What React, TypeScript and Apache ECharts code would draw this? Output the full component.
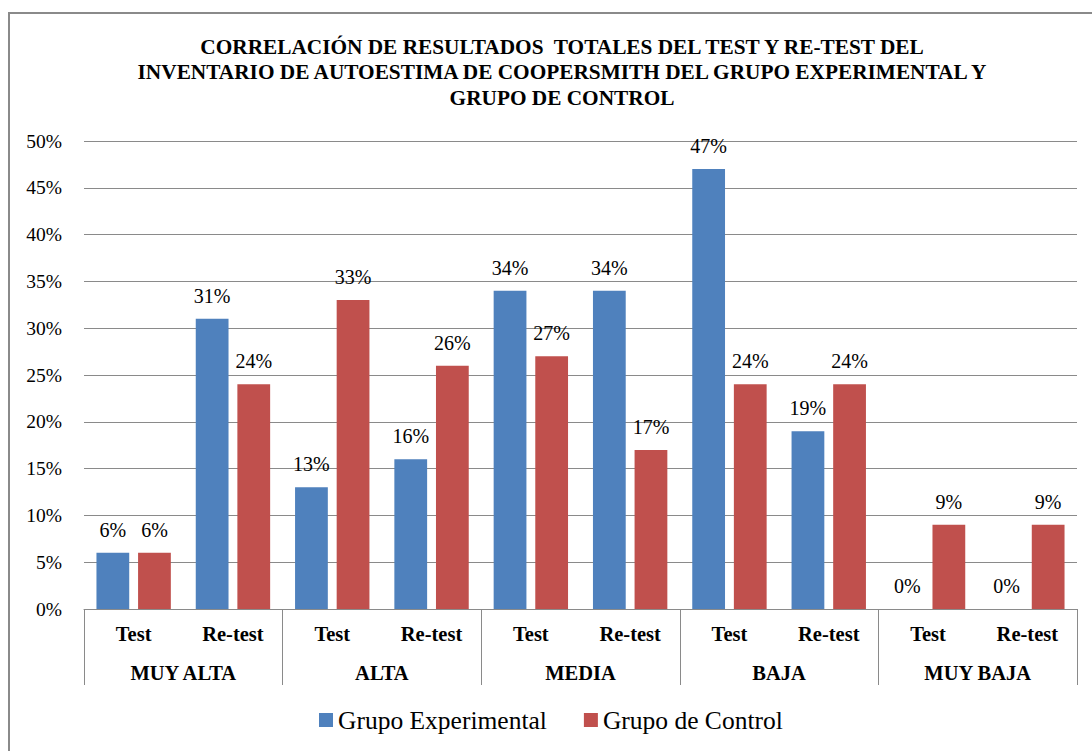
import React, { useEffect, useRef } from "react";
import * as echarts from "echarts";

const subCategories = ["Test", "Re-test", "Test", "Re-test", "Test", "Re-test", "Test", "Re-test", "Test", "Re-test"];
const groups = ["MUY ALTA", "ALTA", "MEDIA", "BAJA", "MUY BAJA"];
const experimental = [6, 31, 13, 16, 34, 34, 47, 19, 0, 0];
const control = [6, 24, 33, 26, 27, 17, 24, 24, 9, 9];
const titleLines = [
  "CORRELACIÓN DE RESULTADOS  TOTALES DEL TEST Y RE-TEST DEL",
  "INVENTARIO DE AUTOESTIMA DE COOPERSMITH DEL GRUPO EXPERIMENTAL Y",
  "GRUPO DE CONTROL",
];

const FONT = "'Liberation Serif', 'Times New Roman', serif";

export default function App() {
  const ref = useRef<HTMLDivElement>(null);
  useEffect(() => {
    if (!ref.current) return;
    const chart = echarts.init(ref.current, null, { renderer: "svg" });
    const label = {
      show: true,
      position: "top",
      distance: 13,
      formatter: "{c}%",
      color: "#000",
      fontFamily: FONT,
      fontSize: 20,
    };
    chart.setOption({
      animation: false,
      backgroundColor: "#fff",
      textStyle: { fontFamily: FONT },
      title: {
        text: titleLines.join("\n"),
        left: 557,
        textAlign: "center",
        top: 29,
        textStyle: {
          fontFamily: FONT,
          fontWeight: "bold",
          fontSize: 21.3,
          lineHeight: 25.5,
          color: "#000",
        },
      },
      graphic: [
        {
          type: "rect",
          shape: { x: 9, y: 13, width: 1100, height: 760 },
          style: { fill: "none", stroke: "#8a8a8a", lineWidth: 2 },
          silent: true,
        },
      ],
      legend: {
        top: 702,
        left: 314,
        itemWidth: 14,
        itemHeight: 14,
        itemGap: 37,
        icon: "rect",
        textStyle: { fontFamily: FONT, fontSize: 25.5, color: "#000" },
        data: ["Grupo Experimental", "Grupo de Control"],
      },
      grid: { left: 84, right: 15, top: 141, bottom: 142, containLabel: false },
      xAxis: [
        {
          type: "category",
          data: subCategories,
          position: "bottom",
          axisLine: { show: true, lineStyle: { color: "#8a8a8a", width: 1 } },
          axisTick: { show: false },
          axisLabel: {
            interval: 0,
            margin: 14,
            fontFamily: FONT,
            fontWeight: "bold",
            fontSize: 20.5,
            color: "#000",
          },
        },
        {
          type: "category",
          data: groups,
          position: "bottom",
          axisLine: { show: false },
          axisTick: {
            show: true,
            interval: 0,
            length: 76,
            lineStyle: { color: "#8a8a8a", width: 1 },
          },
          axisLabel: {
            interval: 0,
            margin: 53,
            fontFamily: FONT,
            fontWeight: "bold",
            fontSize: 20.5,
            color: "#000",
          },
        },
      ],
      yAxis: {
        type: "value",
        min: 0,
        max: 50,
        interval: 5,
        axisLine: { show: false },
        axisTick: { show: false },
        splitLine: { show: true, lineStyle: { color: "#8a8a8a", width: 1 } },
        axisLabel: {
          formatter: "{value}%",
          margin: 22,
          fontFamily: FONT,
          fontSize: 19.5,
          color: "#000",
        },
      },
      series: [
        {
          name: "Grupo Experimental",
          type: "bar",
          xAxisIndex: 0,
          data: experimental,
          barWidth: "33%",
          barGap: "27%",
          itemStyle: { color: "#4F81BD" },
          label,
        },
        {
          name: "Grupo de Control",
          type: "bar",
          xAxisIndex: 0,
          data: control,
          barWidth: "33%",
          barGap: "27%",
          itemStyle: { color: "#C0504D" },
          label,
        },
      ],
    });
    return () => chart.dispose();
  }, []);
  return (
    <div
      ref={ref}
      style={{ position: "absolute", left: 0, top: 0, width: 1092, height: 751 }}
    />
  );
}
